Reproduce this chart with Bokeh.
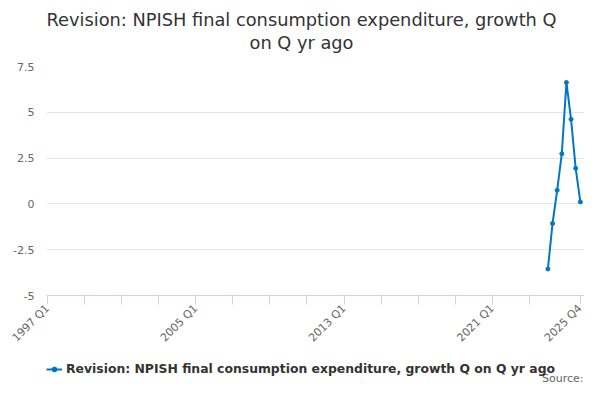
import math
from bokeh.plotting import figure
from bokeh.layouts import column
from bokeh.models import (FixedTicker, Legend, LegendItem, ColumnDataSource, Range1d, Label)
from bokeh.embed import file_html
from bokeh.resources import INLINE

# ---- data ----
quarters = [f"{y} Q{q}" for y in range(1997, 2026) for q in range(1, 5)]
series_quarters = ["2024 Q1", "2024 Q2", "2024 Q3", "2024 Q4",
                   "2025 Q1", "2025 Q2", "2025 Q3", "2025 Q4"]
series_values = [-3.55, -1.07, 0.74, 2.74, 6.63, 4.62, 1.94, 0.11]
tick_quarters = ["1997 Q1", "1999 Q1", "2001 Q1", "2003 Q1", "2005 Q1", "2007 Q1",
                 "2009 Q1", "2011 Q1", "2013 Q1", "2015 Q1", "2017 Q1", "2019 Q1",
                 "2021 Q1", "2023 Q1", "2025 Q4"]
label_quarters = ["1997 Q1", "2005 Q1", "2013 Q1", "2021 Q1", "2025 Q4"]
y_ticks = [-5, -2.5, 0, 2.5, 5, 7.5]
y_tick_labels = ["-5", "-2.5", "0", "2.5", "5", "7.5"]
title_lines = ["Revision: NPISH final consumption expenditure, growth Q", "on Q yr ago"]
series_name = "Revision: NPISH final consumption expenditure, growth Q on Q yr ago"
source_text = "Source:"

FONT = "DejaVu Sans"
COLOR = "#0076c6"
W = 584


def blank_fig(h):
    f = figure(width=W, height=h, output_backend="svg", toolbar_location=None,
               x_axis_location=None, y_axis_location=None, title=None,
               min_border_left=0, min_border_right=0, min_border_top=0, min_border_bottom=0,
               x_range=Range1d(0, 1), y_range=Range1d(0, 1))
    f.outline_line_color = None
    f.grid.visible = False
    return f


# ---- title strip ----
pt = blank_fig(58)
for line, ty in zip(title_lines, [39, 16]):
    pt.add_layout(Label(x=255, y=ty, x_units="screen", y_units="screen", text=line,
                        text_align="center", text_baseline="middle", text_font=FONT,
                        text_font_size="17.8px", text_color="#333333"))

# ---- main chart ----
idx = {q: i for i, q in enumerate(quarters)}
src = ColumnDataSource(dict(x=[idx[q] for q in series_quarters], y=series_values))

p = figure(width=W, height=294, output_backend="svg", toolbar_location=None,
           title=None, min_border_left=39, min_border_right=0,
           min_border_top=8, min_border_bottom=56)
p.x_range = Range1d(-0.22, 115.9)
p.y_range = Range1d(-5, 7.5)
p.outline_line_color = None

r = p.line("x", "y", source=src, line_color=COLOR, line_width=2)
s = p.scatter("x", "y", source=src, size=4, color=COLOR)

xa = p.xaxis[0]
xa.ticker = FixedTicker(ticks=[idx[q] for q in tick_quarters])
xa.major_label_overrides = {idx[q]: (q if q in label_quarters else "") for q in tick_quarters}
xa.major_label_orientation = math.pi / 4
xa.axis_line_color = "#ccd6eb"
xa.major_tick_line_color = "#ccd6eb"
xa.major_tick_in = 0
xa.major_tick_out = 9
xa.minor_tick_line_color = None
xa.major_label_text_font = FONT
xa.major_label_text_font_size = "11px"
xa.major_label_text_color = "#666666"
xa.major_label_standoff = 2

ya = p.yaxis[0]
ya.ticker = FixedTicker(ticks=y_ticks)
ya.major_label_overrides = {t: l for t, l in zip(y_ticks, y_tick_labels)}
ya.axis_line_color = None
ya.major_tick_line_color = None
ya.major_tick_in = 0
ya.major_tick_out = 0
ya.minor_tick_line_color = None
ya.major_label_text_font = FONT
ya.major_label_text_font_size = "11px"
ya.major_label_text_color = "#666666"
ya.major_label_standoff = 12
ya.axis_label = " "
ya.axis_label_text_font_size = "1px"
ya.axis_label_standoff = 5

p.xgrid.grid_line_color = None
p.ygrid.ticker = FixedTicker(ticks=y_ticks)
p.ygrid.grid_line_color = "#e6e6e6"

# ---- legend + source strip ----
pb = blank_fig(32)
lr = pb.line("x", "y", source=src, line_color=COLOR, line_width=2)
sr = pb.scatter("x", "y", source=src, size=4, color=COLOR)
legend = Legend(items=[LegendItem(label=series_name, renderers=[lr, sr])],
                orientation="horizontal", location=(0, 8),
                label_text_font=FONT, label_text_font_size="12.4px",
                label_text_font_style="bold", label_text_color="#333333",
                border_line_color=None, background_fill_alpha=0,
                glyph_width=16, glyph_height=12, label_standoff=4,
                padding=0, margin=0, spacing=0, label_height=14)
pb.add_layout(legend, "center")
pb.add_layout(Label(x=537, y=0, x_units="screen", y_units="screen", text=source_text,
                    text_align="right", text_baseline="bottom", text_font=FONT,
                    text_font_size="11px", text_color="#666666"))

layout = column(pt, p, pb, spacing=0)
open("out.html", "w").write(file_html(layout, INLINE))
